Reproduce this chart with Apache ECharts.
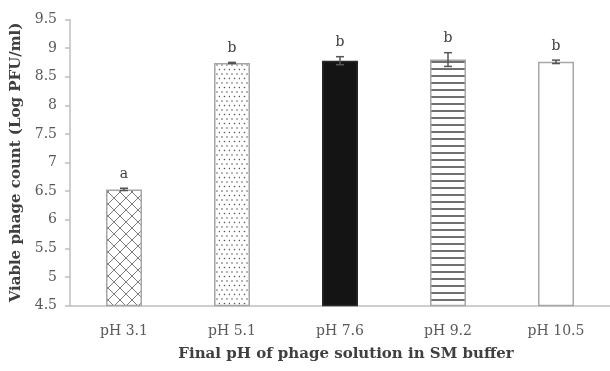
<!DOCTYPE html>
<html>
<head>
<meta charset="utf-8">
<script src="https://cdn.jsdelivr.net/npm/echarts@6/dist/echarts.min.js"></script>
<style>
  html, body { margin: 0; padding: 0; background: #fff; }
  #chart { width: 610px; height: 371px; }
</style>
</head>
<body>
<div id="chart"></div>
<script>
// values
const categories = ['pH 3.1', 'pH 5.1', 'pH 7.6', 'pH 9.2', 'pH 10.5'];
const means = [6.53, 8.74, 8.78, 8.80, 8.76];
const errors = [0.02, 0.01, 0.07, 0.12, 0.03];
const letters = ['a', 'b', 'b', 'b', 'b'];

const serif = '"DejaVu Serif", serif';

// small canvas tiles for the bar fills
function tile(w, h, draw) {
    const c = document.createElement('canvas');
    c.width = w;
    c.height = h;
    const ctx = c.getContext('2d');
    ctx.fillStyle = '#ffffff';
    ctx.fillRect(0, 0, w, h);
    draw(ctx);
    return { image: c, repeat: 'repeat' };
}

const crossHatch = tile(12, 12, ctx => {
    ctx.strokeStyle = '#7a7a7a';
    ctx.lineWidth = 1;
    ctx.beginPath();
    ctx.moveTo(0, 0); ctx.lineTo(12, 12);
    ctx.moveTo(12, 0); ctx.lineTo(0, 12);
    ctx.stroke();
});

const dots = tile(10, 9, ctx => {
    ctx.fillStyle = '#5a5a5a';
    [[2, 2], [7, 2], [4.5, 6.5], [9.5, 6.5]].forEach(p => {
        ctx.beginPath();
        ctx.arc(p[0], p[1], 0.8, 0, Math.PI * 2);
        ctx.fill();
    });
});

const hLines = tile(4, 7, ctx => {
    ctx.fillStyle = '#707070';
    ctx.fillRect(0, 5, 4, 2);
});

const fills = [
    { color: crossHatch, borderColor: '#a6a6a6' },
    { color: dots, borderColor: '#a6a6a6' },
    { color: '#141414', borderColor: '#2a2a2a' },
    { color: hLines, borderColor: '#a6a6a6' },
    { color: '#ffffff', borderColor: '#a6a6a6' }
];

const chart = echarts.init(document.getElementById('chart'));

chart.setOption({
    animation: false,
    backgroundColor: '#ffffff',
    grid: {
        left: 70,
        top: 19.5,
        width: 551,
        height: 286
    },
    xAxis: {
        type: 'category',
        data: categories,
        name: 'Final pH of phage solution in SM buffer',
        nameLocation: 'middle',
        nameGap: 41,
        nameTextStyle: {
            fontFamily: serif,
            fontWeight: 'bold',
            fontSize: 15,
            color: '#404040',
            padding: [0, 0, 0, 12]
        },
        axisLine: { lineStyle: { color: '#bfbfbf', width: 1.5 } },
        axisTick: { show: false },
        axisLabel: {
            margin: 19,
            fontFamily: serif,
            fontSize: 14,
            color: '#595959'
        }
    },
    yAxis: {
        type: 'value',
        min: 4.5,
        max: 9.5,
        interval: 0.5,
        name: 'Viable phage count (Log PFU/ml)',
        nameLocation: 'middle',
        nameGap: 43,
        nameTextStyle: {
            fontFamily: serif,
            fontWeight: 'bold',
            fontSize: 15,
            color: '#404040'
        },
        axisLine: { show: true, lineStyle: { color: '#bfbfbf', width: 1.5 } },
        axisTick: { show: true, length: 5, lineStyle: { color: '#bfbfbf', width: 1.5 } },
        splitLine: { show: false },
        axisLabel: {
            margin: 13,
            fontFamily: serif,
            fontSize: 14,
            color: '#595959'
        }
    },
    series: [
        {
            type: 'bar',
            barWidth: 36,
            data: means.map((v, i) => ({
                value: v,
                itemStyle: {
                    color: fills[i].color,
                    borderColor: fills[i].borderColor,
                    borderWidth: 1.5
                }
            }))
        },
        {
            type: 'custom',
            data: means.map((v, i) => [i, v, errors[i]]),
            z: 5,
            renderItem(params, api) {
                const i = api.value(0);
                const mean = api.value(1);
                const err = api.value(2);
                const top = api.coord([i, mean + err]);
                const bottom = api.coord([i, mean - err]);
                const x = top[0];
                const cap = 4;
                const line = { stroke: '#555555', lineWidth: 1.5 };
                return {
                    type: 'group',
                    children: [
                        { type: 'line', shape: { x1: x, y1: top[1], x2: x, y2: bottom[1] }, style: line },
                        { type: 'line', shape: { x1: x - cap, y1: top[1], x2: x + cap, y2: top[1] }, style: line },
                        { type: 'line', shape: { x1: x - cap, y1: bottom[1], x2: x + cap, y2: bottom[1] }, style: line },
                        {
                            type: 'text',
                            style: {
                                x: x,
                                y: top[1] - 14,
                                text: letters[params.dataIndex],
                                fill: '#404040',
                                font: '14px ' + serif,
                                align: 'center',
                                verticalAlign: 'middle'
                            }
                        }
                    ]
                };
            }
        }
    ]
});

window.addEventListener('resize', () => chart.resize());
</script>
</body>
</html>
